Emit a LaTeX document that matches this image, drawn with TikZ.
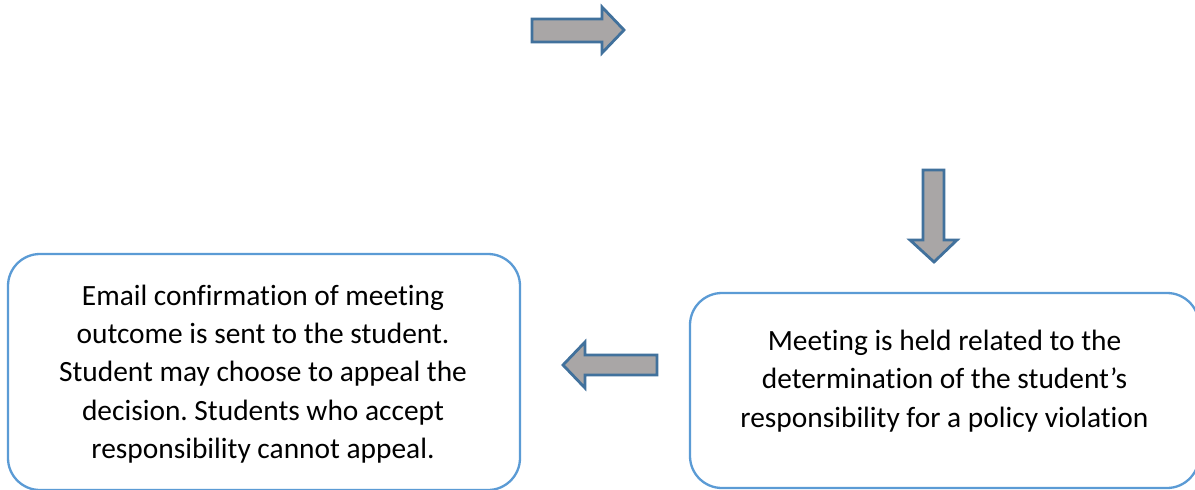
\documentclass[tikz,border=0pt]{standalone}
\usepackage{fontspec}
\setmainfont[Ligatures=NoCommon]{Carlito}
\definecolor{boxblue}{HTML}{5B9BD5}
\definecolor{arrowblue}{HTML}{41719C}
\definecolor{arrowgray}{HTML}{A9A6A6}
\begin{document}
\frenchspacing
\begin{tikzpicture}[x=1pt,y=-1pt,
  stepbox/.style={draw=boxblue,line width=2.3pt,rounded corners=32pt,fill=white},
  boxtext/.style={align=center,inner sep=0pt,font=\fontsize{29.4}{38.2}\selectfont},
  blockarrow/.style={draw=arrowblue,line width=2.8pt,fill=arrowgray,line join=miter}]
\useasboundingbox (0,0) rectangle (1195,490);
\fill[white] (0,0) rectangle (1195,490);
% boxes
\draw[stepbox] (8,254) rectangle (520,490);
\node[boxtext] (email) at (263,374) {Email confirmation of meeting\\outcome is sent to the student.\\Student may choose to appeal the\\decision. Students who accept\\responsibility cannot appeal.};
\draw[stepbox] (690,293) rectangle (1199,488);
\node[boxtext] (meeting) at (944.5,381) {Meeting is held related to the\\determination of the student’s\\responsibility for a policy violation};
% arrows
\draw[blockarrow] (532,19) -- (602,19) -- (602,7) -- (624,30) -- (602,53) -- (602,42) -- (532,42) -- cycle;
\draw[blockarrow] (923,170) -- (944,170) -- (944,240) -- (957,240) -- (934,262) -- (910,240) -- (923,240) -- cycle;
\draw[blockarrow] (657,355) -- (585,355) -- (585,342) -- (563,365) -- (585,388) -- (585,375) -- (657,375) -- cycle;
\end{tikzpicture}
\end{document}
